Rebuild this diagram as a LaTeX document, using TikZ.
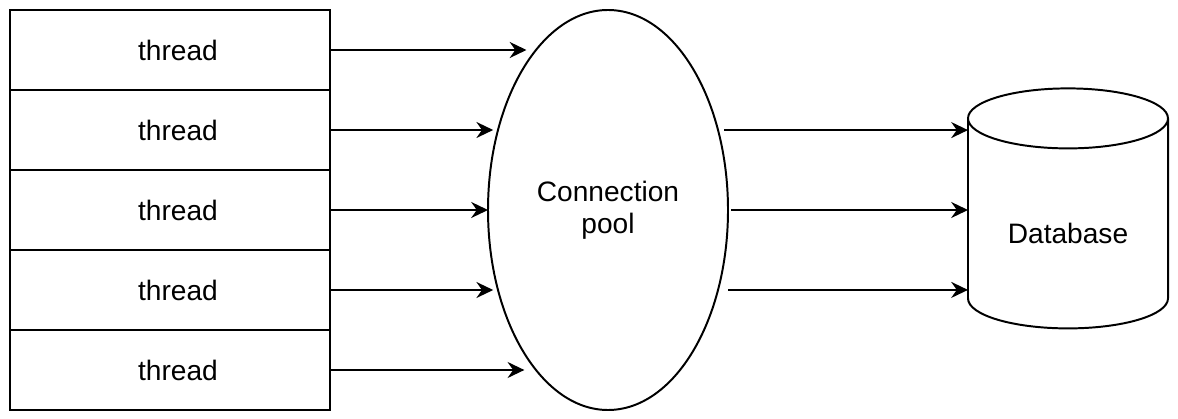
\documentclass[tikz,border=0pt]{standalone}
\usepackage{fontspec}
\setmainfont{Liberation Sans}
\usepackage{tikz}
\usetikzlibrary{shapes.geometric, arrows.meta}
\tikzset{
    every picture/.style={line width=1.4pt},
    every node/.style={font=\fontsize{20}{23}\selectfont},
    thread/.style={
        draw, rectangle,
        minimum width=8cm, minimum height=2cm,
        inner sep=0pt, outer sep=0pt,
        execute at begin node=\hspace*{0.4cm}
    },
    pool/.style={
        draw, ellipse,
        minimum width=6cm, minimum height=10cm,
        inner sep=0pt, outer sep=0pt,
        align=center
    },
    dbbody/.style={
        rectangle,
        minimum width=5cm, minimum height=6cm,
        inner sep=0pt, outer sep=0pt
    },
    flow/.style={
        draw,
        -{Stealth[length=0.42cm, width=0.4cm, inset=0.14cm]}
    }
}

\begin{document}
\begin{tikzpicture}
        \useasboundingbox (0,0) rectangle (29.45,10.45);
        \node[thread] (t1) at (4.25,9.2) {thread};
        \node[thread] (t2) at (4.25,7.2) {thread};
        \node[thread] (t3) at (4.25,5.2) {thread};
        \node[thread] (t4) at (4.25,3.2) {thread};
        \node[thread] (t5) at (4.25,1.2) {thread};

        \node[pool] (cp) at (15.2,5.2) {Connection\\pool};

        \node[dbbody] (db) at (26.7,5.24) {};
        \node (dbtext) at (26.7,4.62) {Database};
        % cylinder outline
        \draw ([yshift=-0.75cm]db.north west) -- ([yshift=0.75cm]db.south west)
            arc[start angle=180, end angle=360, x radius=2.5cm, y radius=0.75cm]
            -- ([yshift=-0.75cm]db.north east)
            arc[start angle=0, end angle=360, x radius=2.5cm, y radius=0.75cm];

        % threads into the pool
        \draw[flow, shorten >=0.25cm] (t1.east) -- (t1.east -| cp.114.2);
        \draw[flow, shorten >=0.12cm] (t2.east) -- (t2.east -| cp.144);
        \draw[flow] (t3.east) -- (t3.east -| cp.west);
        \draw[flow, shorten >=0.12cm] (t4.east) -- (t4.east -| cp.216);
        \draw[flow, shorten >=0.25cm] (t5.east) -- (t5.east -| cp.245.8);

        % pool into the database
        \draw[flow, shorten <=0.16cm] (cp.36) -- (cp.36 -| db.west);
        \draw[flow, shorten <=0.08cm] (cp.east) -- (cp.east -| db.west);
        \draw[flow, shorten <=0.25cm] (cp.-36) -- (cp.-36 -| db.west);
    \end{tikzpicture}
\end{document}
